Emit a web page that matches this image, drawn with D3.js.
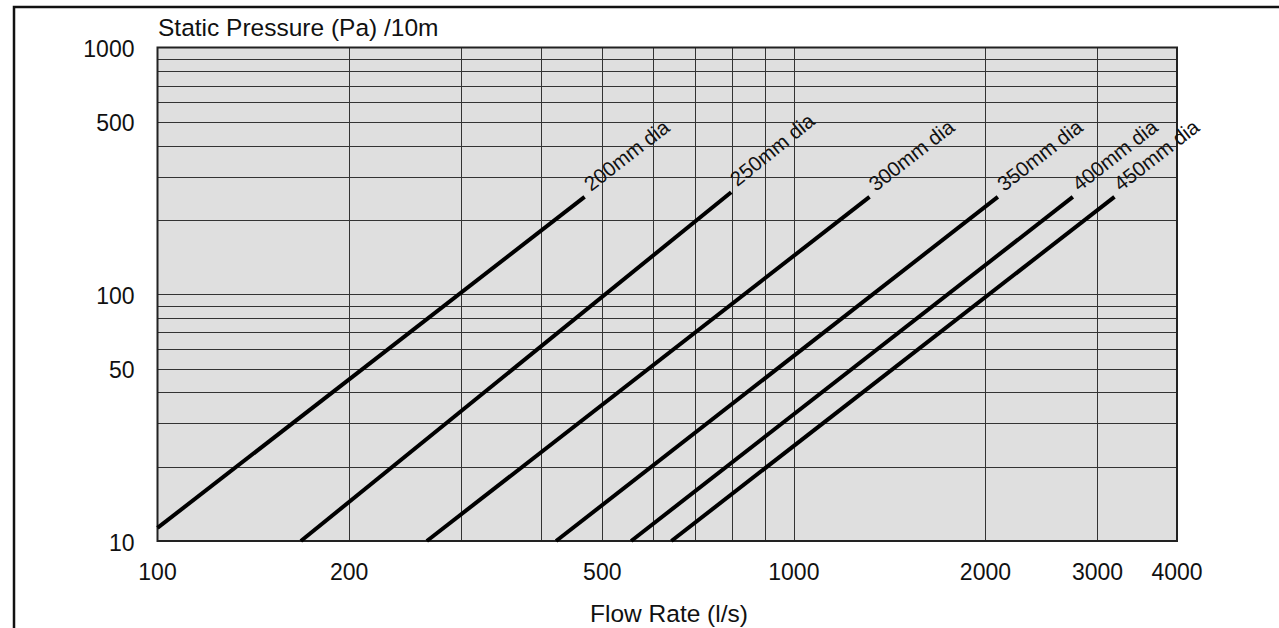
<!DOCTYPE html>
<html lang="en">

<head>
    <meta charset="UTF-8">
    <title>Static Pressure vs Flow Rate</title>
    <script src="https://d3js.org/d3.v7.min.js"></script>
    <style>
        body { margin: 0; background: #fff; }
        svg { display: block; font-family: "Liberation Sans", Arial, sans-serif; }
    </style>
</head>

<body>
    <div id="chart"></div>

    <script>
        // duct diameters and the two end points of each straight (log-log) line
        const diameters = ["200mm dia", "250mm dia", "300mm dia", "350mm dia", "400mm dia", "450mm dia"];
        const startFlow = [100, 168, 265, 423, 555, 642];
        const startPressure = [11.3, 10, 10, 10, 10, 10];
        const endFlow = [469, 797, 1315, 2092, 2744, 3190];
        const endPressure = [248, 259, 248, 248, 248, 248];

        const xTickLabels = [100, 200, 500, 1000, 2000, 3000, 4000];
        const yTickLabels = [10, 50, 100, 500, 1000];

        const width = 1279;
        const height = 628;
        const plot = { left: 157.5, right: 1177, top: 47.5, bottom: 541 };

        const svg = d3.select("#chart")
            .append("svg")
            .attr("width", width)
            .attr("height", height);

        // outer frame (only left and top edges are visible)
        svg.append("path")
            .attr("d", `M14,${height + 5} V7 H${width + 5}`)
            .attr("fill", "none")
            .attr("stroke", "#111")
            .attr("stroke-width", 2.5);

        const x = d3.scaleLog().domain([100, 4000]).range([plot.left, plot.right]);
        const y = d3.scaleLog().domain([10, 1000]).range([plot.bottom, plot.top]);

        svg.append("rect")
            .attr("x", plot.left)
            .attr("y", plot.top)
            .attr("width", plot.right - plot.left)
            .attr("height", plot.bottom - plot.top)
            .attr("fill", "#dfdfdf");

        // grid
        svg.append("g")
            .selectAll("line")
            .data(x.ticks().filter(d => d > 100 && d < 4000))
            .join("line")
            .attr("x1", d => Math.round(x(d)) + 0.5)
            .attr("x2", d => Math.round(x(d)) + 0.5)
            .attr("y1", plot.top)
            .attr("y2", plot.bottom)
            .attr("stroke", "#333")
            .attr("stroke-width", 1);

        svg.append("g")
            .selectAll("line")
            .data(y.ticks().filter(d => d > 10 && d < 1000))
            .join("line")
            .attr("x1", plot.left)
            .attr("x2", plot.right)
            .attr("y1", d => Math.round(y(d)) + 0.5)
            .attr("y2", d => Math.round(y(d)) + 0.5)
            .attr("stroke", "#333")
            .attr("stroke-width", 1);

        svg.append("rect")
            .attr("x", plot.left)
            .attr("y", plot.top)
            .attr("width", plot.right - plot.left)
            .attr("height", plot.bottom - plot.top)
            .attr("fill", "none")
            .attr("stroke", "#222")
            .attr("stroke-width", 2);

        // tick labels
        svg.append("g")
            .selectAll("text")
            .data(xTickLabels)
            .join("text")
            .attr("x", d => x(d))
            .attr("y", 580)
            .attr("text-anchor", "middle")
            .attr("font-size", 23)
            .attr("fill", "#111")
            .text(d => d);

        svg.append("g")
            .selectAll("text")
            .data(yTickLabels)
            .join("text")
            .attr("x", 134.5)
            .attr("y", d => y(d) + 9.7)
            .attr("text-anchor", "end")
            .attr("font-size", 23)
            .attr("fill", "#111")
            .text(d => d);

        // axis titles
        svg.append("text")
            .attr("x", 158)
            .attr("y", 35.5)
            .attr("font-size", 24.5)
            .attr("fill", "#111")
            .text("Static Pressure (Pa) /10m");

        svg.append("text")
            .attr("x", 669)
            .attr("y", 622)
            .attr("text-anchor", "middle")
            .attr("font-size", 24.5)
            .attr("fill", "#111")
            .text("Flow Rate (l/s)");

        // duct lines
        const lines = diameters.map((name, i) => ({
            name,
            p0: [startFlow[i], startPressure[i]],
            p1: [endFlow[i], endPressure[i]]
        }));

        const lineGen = d3.line()
            .x(d => x(d[0]))
            .y(d => y(d[1]));

        svg.append("g")
            .selectAll("path")
            .data(lines)
            .join("path")
            .attr("d", d => lineGen([d.p0, d.p1]))
            .attr("fill", "none")
            .attr("stroke", "#000")
            .attr("stroke-width", 4);

        // rotated labels just past the end of each line
        svg.append("g")
            .selectAll("text")
            .data(lines)
            .join("text")
            .attr("transform", d => {
                const ex = x(d.p1[0]), ey = y(d.p1[1]);
                const angle = Math.atan2(ey - y(d.p0[1]), ex - x(d.p0[0])) * 180 / Math.PI;
                return `translate(${ex},${ey}) rotate(${angle})`;
            })
            .attr("x", 8)
            .attr("y", 0)
            .attr("font-size", 20.5)
            .attr("fill", "#111")
            .text(d => d.name);
    </script>
</body>

</html>
